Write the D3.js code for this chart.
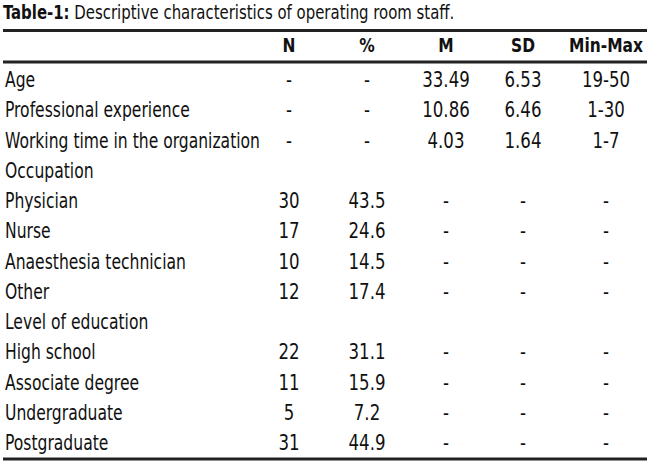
<!DOCTYPE html>
<html>
<head>
<meta charset="utf-8">
<script src="https://cdn.jsdelivr.net/npm/d3@7"></script>
<style>
  body { margin: 0; background: #fff; }
  text { font-family: "DejaVu Sans Condensed", "Liberation Sans Narrow", sans-serif; fill: #111; }
</style>
</head>
<body>
<svg></svg>
<script>
const width = 650;
const height = 464;

const columns = ['N', '%', 'M', 'SD', 'Min-Max'];
const rowLabels = [
  'Age', 'Professional experience', 'Working time in the organization',
  'Occupation', 'Physician', 'Nurse', 'Anaesthesia technician', 'Other',
  'Level of education', 'High school', 'Associate degree', 'Undergraduate', 'Postgraduate'
];
const nValues = ['-', '-', '-', '', '30', '17', '10', '12', '', '22', '11', '5', '31'];
const pctValues = ['-', '-', '-', '', '43.5', '24.6', '14.5', '17.4', '', '31.1', '15.9', '7.2', '44.9'];
const meanValues = ['33.49', '10.86', '4.03', '', '-', '-', '-', '-', '', '-', '-', '-', '-'];
const sdValues = ['6.53', '6.46', '1.64', '', '-', '-', '-', '-', '', '-', '-', '-', '-'];
const rangeValues = ['19-50', '1-30', '1-7', '', '-', '-', '-', '-', '', '-', '-', '-', '-'];

const svg = d3.select('svg').attr('width', width).attr('height', height);

// baselines of the body rows
const y = d3.scalePoint().domain(rowLabels).range([87, 450]);
const x = d3.scaleOrdinal().domain(columns).range([289, 367, 446, 523, 606]);

const fontSize = 20.5;

// title
const title = svg.append('text')
  .attr('transform', 'translate(3,18.5) scale(0.83,1)')
  .style('font-size', '20px');
title.append('tspan').attr('font-weight', 'bold').text('Table-1:');
title.append('tspan').text(' Descriptive characteristics of operating room staff.');

// rules
[30.5, 62, 459].forEach(ly => {
  svg.append('line')
    .attr('x1', 3).attr('x2', 647)
    .attr('y1', ly).attr('y2', ly)
    .attr('stroke', '#222').attr('stroke-width', 3);
});

// header
svg.selectAll('.head')
  .data(columns)
  .enter()
  .append('text')
  .attr('class', 'head')
  .attr('transform', d => 'translate(' + x(d) + ',51.5) scale(0.86,1)')
  .attr('text-anchor', 'middle')
  .attr('font-weight', 'bold')
  .style('font-size', '20px')
  .text(d => d);

// row labels
svg.selectAll('.label')
  .data(rowLabels)
  .enter()
  .append('text')
  .attr('class', 'label')
  .attr('transform', d => 'translate(5,' + y(d) + ') scale(0.845,1)')
  .style('font-size', fontSize + 'px')
  .text(d => d);

// cells
const series = [nValues, pctValues, meanValues, sdValues, rangeValues];
series.forEach((vals, i) => {
  svg.selectAll('.cell' + i)
    .data(vals)
    .enter()
    .append('text')
    .attr('class', 'cell' + i)
    .attr('transform', (d, j) => 'translate(' + x(columns[i]) + ',' + y(rowLabels[j]) + ') scale(0.9,1)')
    .attr('text-anchor', 'middle')
    .style('font-size', fontSize + 'px')
    .text(d => d);
});
</script>
</body>
</html>
